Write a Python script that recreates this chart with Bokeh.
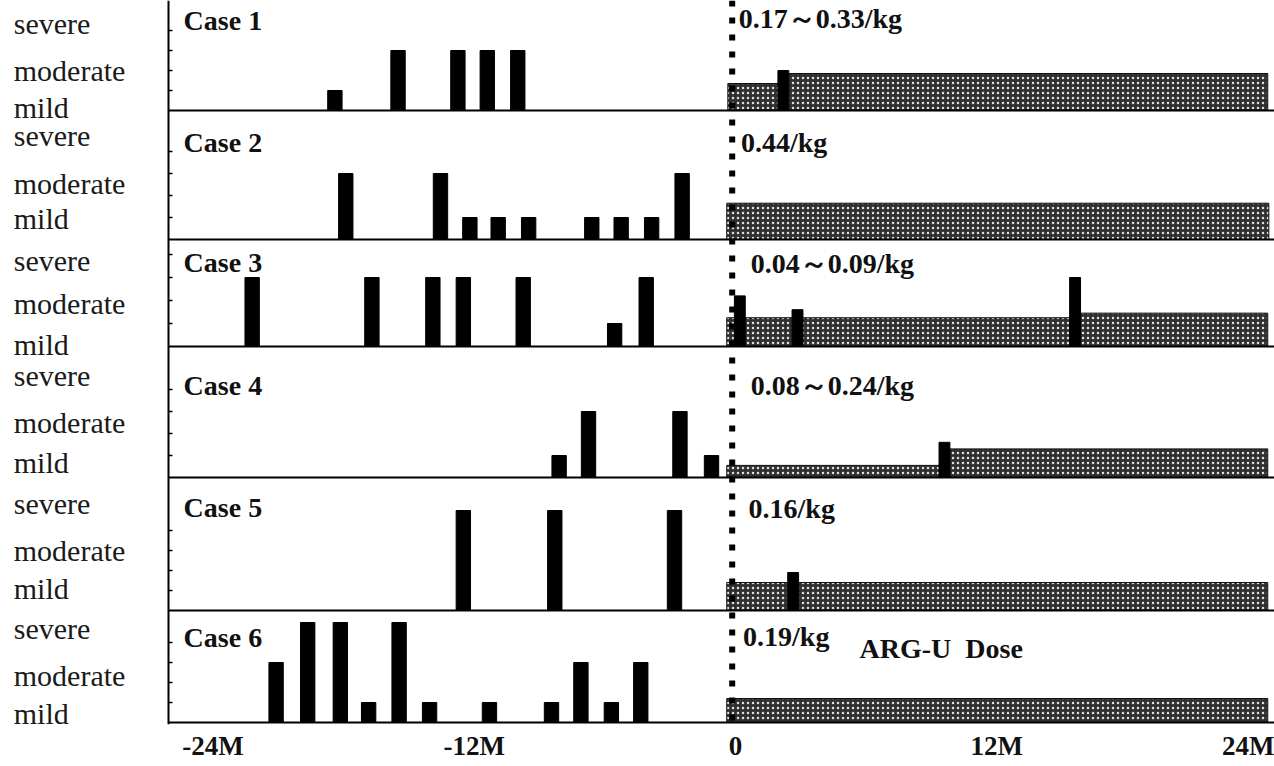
import numpy as np
from bokeh.plotting import figure
from bokeh.models import Range1d, FixedTicker, Span, Label
from bokeh.embed import file_html
from bokeh.resources import INLINE

# ---------------- data ----------------
CASES = ["Case 1", "Case 2", "Case 3", "Case 4", "Case 5", "Case 6"]
DOSE_LABELS = ["0.17～0.33/kg", "0.44/kg", "0.04～0.09/kg", "0.08～0.24/kg", "0.16/kg", "0.19/kg"]
DOSE_TITLE = "ARG-U \u00a0Dose"
SEVERITY_NAMES = ["severe", "moderate", "mild"]
SEVERITY_UNITS = {"mild": 1, "moderate": 3, "severe": 5}
X_TICKS = [-24, -12, 0, 12, 24]
X_TICK_LABELS = ["-24M", "-12M", "0", "12M", "24M"]

# attacks before ARG-U (month, severity)
case1_pre_months = [-18.4, -15.5, -12.75, -11.4, -10.0]
case1_pre_sev = ["mild", "moderate", "moderate", "moderate", "moderate"]
case2_pre_months = [-17.9, -13.55, -12.2, -10.9, -9.5, -6.6, -5.25, -3.85, -2.45]
case2_pre_sev = ["moderate", "moderate", "mild", "mild", "mild", "mild", "mild", "mild", "moderate"]
case3_pre_months = [-22.2, -16.7, -13.9, -12.5, -9.75, -5.55, -4.1]
case3_pre_sev = ["moderate", "moderate", "moderate", "moderate", "moderate", "mild", "moderate"]
case4_pre_months = [-8.1, -6.75, -2.55, -1.1]
case4_pre_sev = ["mild", "moderate", "moderate", "mild"]
case5_pre_months = [-12.5, -8.3, -2.8]
case5_pre_sev = ["severe", "severe", "severe"]
case6_pre_months = [-21.1, -19.65, -18.15, -16.85, -15.45, -14.05, -11.3, -8.45, -7.1, -5.7, -4.35]
case6_pre_sev = ["moderate", "severe", "severe", "mild", "severe", "mild", "mild", "mild",
                 "moderate", "mild", "moderate"]

# attacks after ARG-U start (month, height in severity units)
case1_post_months = [2.2]
case1_post_height = [2.0]
case2_post_months = []
case2_post_height = []
case3_post_months = [0.2, 2.85, 15.6]
case3_post_height = [2.2, 1.6, 3.0]
case4_post_months = [9.6]
case4_post_height = [1.6]
case5_post_months = [2.65]
case5_post_height = [1.9]
case6_post_months = []
case6_post_height = []

# ARG-U dosing periods (start month, end month, bar height in severity units)
case1_dose_start = [-0.35, 2.3]
case1_dose_end = [2.3, 24.45]
case1_dose_height = [1.35, 1.85]
case2_dose_start = [-0.4]
case2_dose_end = [24.5]
case2_dose_height = [1.65]
case3_dose_start = [-0.4, 15.6]
case3_dose_end = [15.6, 24.45]
case3_dose_height = [1.25, 1.45]
case4_dose_start = [-0.4, 9.7]
case4_dose_end = [9.7, 24.45]
case4_dose_height = [0.55, 1.3]
case5_dose_start = [-0.4]
case5_dose_end = [24.45]
case5_dose_height = [1.4]
case6_dose_start = [-0.4]
case6_dose_end = [24.45]
case6_dose_height = [1.2]

PRE = [(case1_pre_months, case1_pre_sev), (case2_pre_months, case2_pre_sev),
       (case3_pre_months, case3_pre_sev), (case4_pre_months, case4_pre_sev),
       (case5_pre_months, case5_pre_sev), (case6_pre_months, case6_pre_sev)]
POST = [(case1_post_months, case1_post_height), (case2_post_months, case2_post_height),
        (case3_post_months, case3_post_height), (case4_post_months, case4_post_height),
        (case5_post_months, case5_post_height), (case6_post_months, case6_post_height)]
DOSE = [(case1_dose_start, case1_dose_end, case1_dose_height),
        (case2_dose_start, case2_dose_end, case2_dose_height),
        (case3_dose_start, case3_dose_end, case3_dose_height),
        (case4_dose_start, case4_dose_end, case4_dose_height),
        (case5_dose_start, case5_dose_end, case5_dose_height),
        (case6_dose_start, case6_dose_end, case6_dose_height)]

# ---------------- layout (y: pixels above bottom axis, x: months) ----------------
X_RANGE = (-33.76, 24.76)
Y_RANGE = (-2, 722)
AXIS_X = -26.05
PANEL_BASE = [612, 483, 376, 245, 112, 0]
PANEL_UNIT = [20, 22, 23, 22, 20, 20]
SEV_LABEL_OFFSET = [(87, 40, 3), (104, 56, 21), (86, 43, 2), (102, 55, 15), (107, 60, 22), (94, 47, 9)]
CASE_LABEL_OFFSET = [90, 97, 84, 92, 103, 85]
DOSE_LABEL_OFFSET = [92, 97, 83, 92, 102, 86]
DOSE_LABEL_X = [0.15, 0.25, 0.7, 0.7, 0.6, 0.35]
DOSE_TITLE_POS = (5.7, 74)
CASE_LABEL_X = -25.35
SEV_LABEL_X = -33.15
SERIF = "Liberation Serif"
FS = "28px"
FS_SEV = "30px"

p = figure(width=1274, height=766, x_range=Range1d(*X_RANGE), y_range=Range1d(*Y_RANGE),
           output_backend="svg", toolbar_location=None,
           min_border_left=0, min_border_right=0, min_border_top=0, min_border_bottom=42)
p.outline_line_color = None
p.grid.visible = False
p.background_fill_color = "white"

bar_x, bar_bottom, bar_top = [], [], []
post_x, post_bottom, post_top = [], [], []
q_left, q_right, q_bottom, q_top = [], [], [], []
minor = []
for i in range(6):
    base, unit = PANEL_BASE[i], PANEL_UNIT[i]
    months, sev = PRE[i]
    for m, s in zip(months, sev):
        bar_x.append(m); bar_bottom.append(base); bar_top.append(base + SEVERITY_UNITS[s] * unit)
    months, heights = POST[i]
    for m, h in zip(months, heights):
        post_x.append(m); post_bottom.append(base); post_top.append(base + h * unit)
    s0, e0, h0 = DOSE[i]
    for a, b, h in zip(s0, e0, h0):
        q_left.append(a); q_right.append(b); q_bottom.append(base); q_top.append(base + h * unit)
    for j in range(1, 5):
        minor.append(base + j * unit)

p.quad(left=q_left, right=q_right, bottom=q_bottom, top=q_top,
       fill_color="#303030", hatch_pattern="dot", hatch_color="#e0e0e0",
       hatch_scale=5, hatch_weight=1.4, line_color="#111111", line_width=1)
p.vbar(x=bar_x, bottom=bar_bottom, top=bar_top, width=0.66, color="black")
p.vbar(x=post_x, bottom=post_bottom, top=post_top, width=0.5, color="black")

# panel baselines
p.segment(x0=[AXIS_X] * 6, x1=[X_RANGE[1]] * 6, y0=PANEL_BASE, y1=PANEL_BASE,
          line_color="black", line_width=2)
p.add_layout(Span(location=-0.15, dimension="height", line_color="black", line_width=6,
                  line_dash="6 11"))

# texts
for i in range(6):
    base = PANEL_BASE[i]
    for name, off in zip(SEVERITY_NAMES, SEV_LABEL_OFFSET[i]):
        p.add_layout(Label(x=SEV_LABEL_X, y=base + off, text=name, text_font=SERIF,
                           text_font_size=FS_SEV, text_align="left", text_baseline="middle",
                           text_color="#1a1a1a"))
    p.add_layout(Label(x=CASE_LABEL_X, y=base + CASE_LABEL_OFFSET[i], text=CASES[i],
                       text_font=SERIF, text_font_style="bold", text_font_size=FS,
                       text_align="left", text_baseline="middle", text_color="#111111"))
    p.add_layout(Label(x=DOSE_LABEL_X[i], y=base + DOSE_LABEL_OFFSET[i], text=DOSE_LABELS[i],
                       text_font=SERIF, text_font_style="bold", text_font_size=FS,
                       text_align="left", text_baseline="middle", text_color="#111111"))
p.add_layout(Label(x=DOSE_TITLE_POS[0], y=PANEL_BASE[5] + DOSE_TITLE_POS[1], text=DOSE_TITLE,
                   text_font=SERIF, text_font_style="bold", text_font_size=FS, text_align="left",
                   text_baseline="middle", text_color="#111111"))

# axes
p.yaxis.fixed_location = AXIS_X
p.yaxis.ticker = FixedTicker(ticks=[], minor_ticks=minor)
p.yaxis.axis_line_width = 2
p.yaxis.minor_tick_in = 4
p.yaxis.minor_tick_out = 0
p.yaxis.minor_tick_line_width = 1.5
p.yaxis.major_tick_line_color = None
p.yaxis.major_tick_out = 0
p.yaxis.major_label_standoff = 0

p.xaxis.ticker = FixedTicker(ticks=X_TICKS, minor_ticks=[])
p.xaxis.major_label_overrides = dict(zip(X_TICKS, X_TICK_LABELS))
p.xaxis.axis_line_color = None
p.xaxis.major_tick_line_color = None
p.xaxis.minor_tick_line_color = None
p.xaxis.major_tick_out = 0
p.xaxis.major_label_standoff = 6
p.xaxis.major_label_text_font = SERIF
p.xaxis.major_label_text_font_style = "bold"
p.xaxis.major_label_text_font_size = "27px"
p.xaxis.major_label_text_color = "#111111"

open("out.html", "w").write(file_html(p, INLINE))
